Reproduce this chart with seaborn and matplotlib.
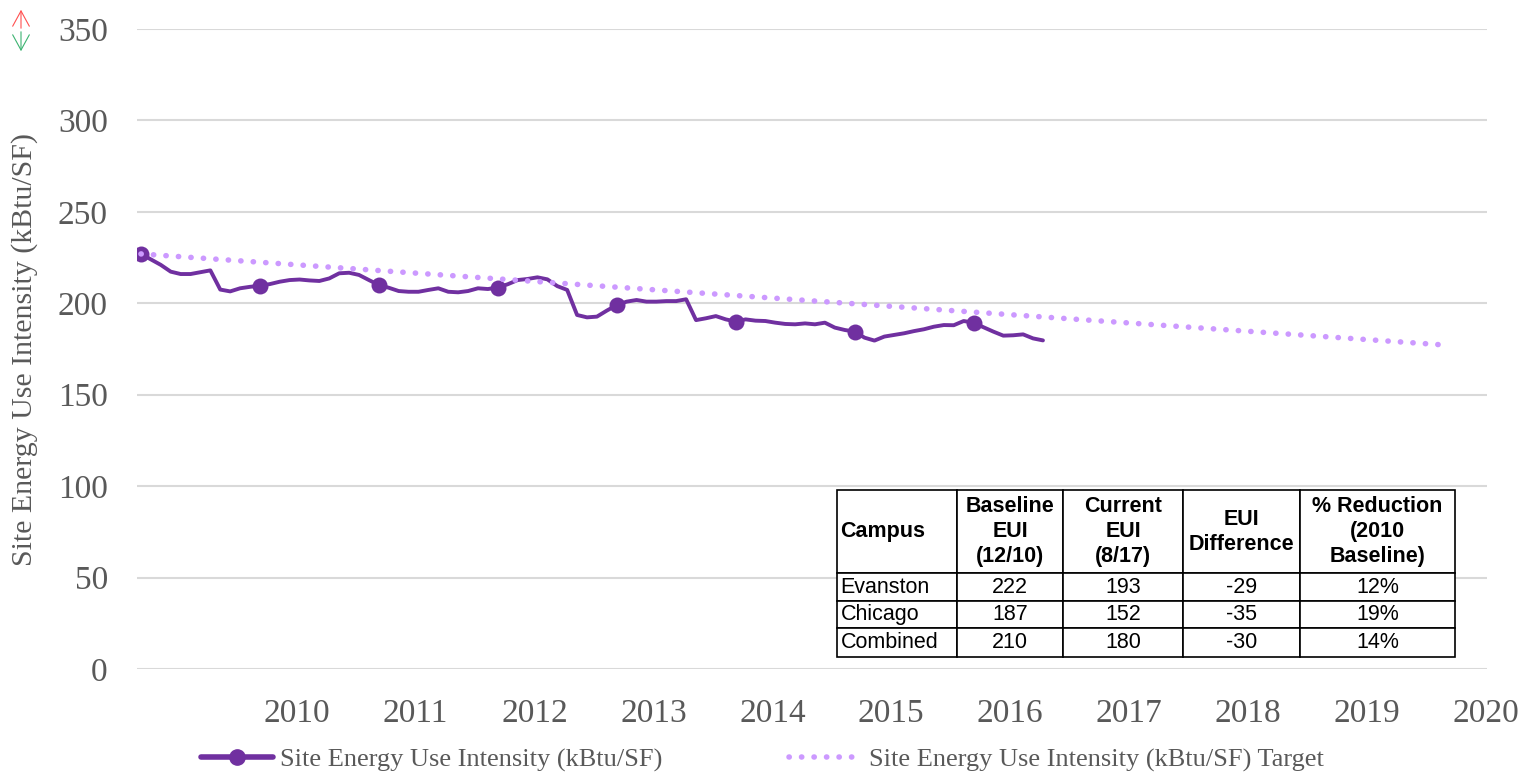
import matplotlib
matplotlib.use("Agg")
import matplotlib.pyplot as plt
import seaborn as sns
import numpy as np
import pandas as pd
from matplotlib.lines import Line2D
from matplotlib.patches import FancyArrowPatch

# monthly site EUI (kBtu/SF)
eui = [227, 224, 221, 217.3, 216, 216, 217, 218, 207.5, 206.5, 208.2, 209,
       209.6, 210.5, 211.8, 212.7, 213, 212.5, 212.2, 213.6, 216.4, 216.7, 215.5, 212.7,
       210, 208.5, 206.7, 206.3, 206.3, 207.3, 208.2, 206.3, 206, 206.7, 208.2, 207.8,
       208.6, 210.4, 212.7, 213.3, 214.2, 213.1, 209.4, 207.3, 193.6, 192.3, 192.7, 196,
       199, 200.9, 201.8, 200.9, 200.9, 201.2, 201.2, 202.2, 190.8, 191.8, 193, 191.2,
       190, 191.2, 190.5, 190.3, 189.4, 188.7, 188.5, 189, 188.5, 189.4, 186.7, 185.4,
       184.5, 181.2, 179.6, 181.8, 182.7, 183.6, 184.8, 185.8, 187.2, 188.1, 188, 190.3,
       189.4, 186.9, 184.5, 182.3, 182.5, 183, 180.8, 179.7]
months = list(range(len(eui)))

# straight target line: start and end
target_months = [0, 132]
target_eui = [227, 177]

years = ['2010', '2011', '2012', '2013', '2014', '2015', '2016', '2017', '2018', '2019', '2020']

table_cols = ['Campus', 'Baseline\nEUI\n(12/10)', 'Current\nEUI\n(8/17)', 'EUI\nDifference',
              '% Reduction\n(2010\nBaseline)']
campuses = ['Evanston', 'Chicago', 'Combined']
baseline = ['222', '187', '210']
current = ['193', '152', '180']
difference = ['-29', '-35', '-30']
reduction = ['12%', '19%', '14%']

purple = '#7030A0'
light_purple = '#CC99FF'
gray_text = '#595959'
dots = (0, (0.05, 2.2))

sns.set_theme(style="white")
plt.rcParams['font.family'] = ['Liberation Serif', 'DejaVu Serif']

df = pd.DataFrame({'month': months, 'eui': eui})
df_t = pd.DataFrame({'month': target_months, 'eui': target_eui})

fig = plt.figure(figsize=(15.34, 7.74), dpi=100)
ax = fig.add_axes([137/1534, 1 - 669/774, 1350/1534, 640/774])

sns.lineplot(data=df, x='month', y='eui', ax=ax, color=purple, linewidth=2.8,
             marker='o', markersize=11.5, markevery=12, markeredgewidth=0, zorder=3)
sns.lineplot(data=df_t, x='month', y='eui', ax=ax, color=light_purple, linewidth=4,
             linestyle=dots, dash_capstyle='round', zorder=4)

ax.set_ylim(0, 350)
ax.set_xlim(-0.4, 135.8)
ax.set_yticks(range(0, 351, 50))
ax.set_xticks(np.arange(len(years)) * 12 + 15.7)
ax.set_xticklabels(years)
ax.grid(axis='y', color='#D9D9D9', linewidth=1.5)
ax.grid(axis='x', visible=False)
for s in ax.spines.values():
    s.set_visible(False)
ax.tick_params(axis='y', labelsize=24, colors=gray_text, pad=21, length=0)
ax.tick_params(axis='x', labelsize=24, colors=gray_text, pad=21, length=0)
ax.set_xlabel('')
ax.set_ylabel('Site Energy Use Intensity (kBtu/SF)', fontsize=21.5, color=gray_text)
ax.yaxis.set_label_coords(-0.073, 0.5)

handles = [Line2D([], [], color=purple, linewidth=4, marker='o', markersize=11),
           Line2D([], [], color=light_purple, linewidth=4, linestyle=dots,
                  dash_capstyle='round')]
fig.legend(handles, ['Site Energy Use Intensity (kBtu/SF)',
                     'Site Energy Use Intensity (kBtu/SF) Target'],
           loc='center', bbox_to_anchor=(0.497, 0.018), ncol=2, frameon=False,
           fontsize=19, labelcolor=gray_text, handlelength=2.7, handletextpad=0.3,
           columnspacing=4.8)

# small up/down arrow icon in the corner
fig.patches.append(FancyArrowPatch(
    (21/1534, 1 - 31/774), (21/1534, 1 - 7/774), transform=fig.transFigure,
    arrowstyle='->,head_length=11,head_width=6', color='#FF5050', linewidth=0.8))
fig.patches.append(FancyArrowPatch(
    (21/1534, 1 - 29/774), (21/1534, 1 - 54/774), transform=fig.transFigure,
    arrowstyle='->,head_length=11,head_width=6', color='#3CB371', linewidth=0.8))

# summary table
tax = fig.add_axes([0, 0, 1, 1])
tax.axis('off')
rows = [list(r) for r in zip(campuses, baseline, current, difference, reduction)]
tbl = tax.table(cellText=rows, colLabels=table_cols, cellLoc='center',
                bbox=[837/1534, 1 - 657/774, 618/1534, 167/774])
tbl.auto_set_font_size(False)
col_w = [120, 106, 120, 117, 155]
row_h = [83, 27.5, 27.5, 28.5]
for (r, c), cell in tbl.get_celld().items():
    cell.set_width(col_w[c])
    cell.set_height(row_h[r])
    cell.set_edgecolor('black')
    cell.set_linewidth(1.2)
    cell.set_facecolor('white')
    txt = cell.get_text()
    txt.set_fontfamily(['Liberation Sans', 'DejaVu Sans'])
    txt.set_fontsize(15.5)
    txt.set_color('black')
    if r == 0:
        txt.set_fontweight('bold')
        txt.set_linespacing(1.25)
    if c == 0:
        txt.set_horizontalalignment('left')
        cell.PAD = 0.03

fig.savefig('out.png', dpi=100)
